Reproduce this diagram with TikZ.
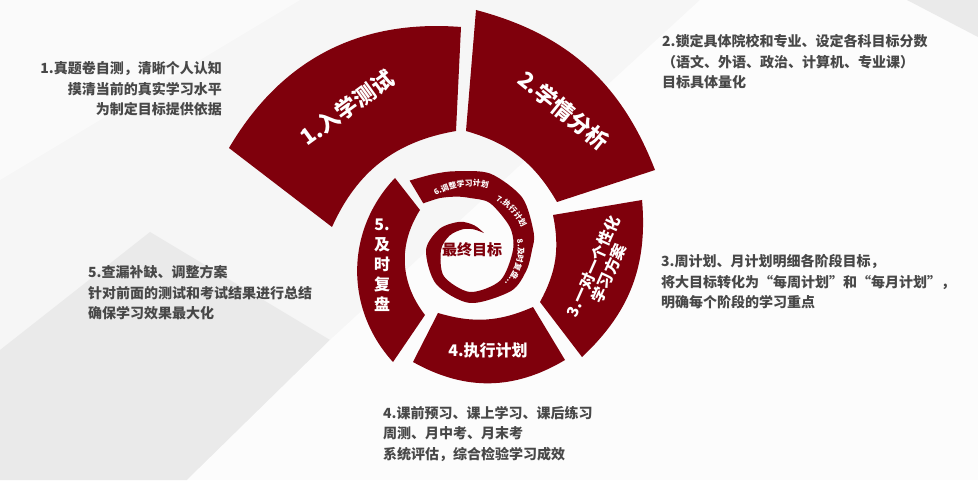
\documentclass[tikz,border=0pt]{standalone}
\usepackage{fontspec}
\newfontfamily\cjk{Noto Sans CJK SC}
\usetikzlibrary{decorations.text}
\definecolor{spiral}{RGB}{127,0,12}
\definecolor{desc}{RGB}{72,72,72}
\definecolor{bgc}{RGB}{246,246,246}
\definecolor{bgdark}{RGB}{234,234,234}
\newcommand{\ringfont}{\cjk\bfseries\fontsize{7.8}{8}\selectfont}
\begin{document}
\begin{tikzpicture}[x=1pt,y=1pt,
  seg/.style={fill=spiral},
  lab/.style={text=white,font=\cjk\bfseries\fontsize{22}{24}\selectfont,inner sep=0},
  labm/.style={text=white,font=\cjk\bfseries\fontsize{16}{20}\selectfont,inner sep=0,align=center},
  labs/.style={text=white,font=\cjk\bfseries\fontsize{15.5}{17}\selectfont,inner sep=0,align=center},
  goal/.style={text=spiral,font=\cjk\bfseries\fontsize{15}{18}\selectfont,inner sep=0},
  desctext/.style={text=desc,font=\cjk\bfseries\fontsize{14}{20.5}\selectfont,inner sep=0},
  ringtext/.style={decorate,decoration={text along path,text align=center,text color=white,text={|\ringfont|#1}}}
]
% background
\fill[bgc] (0,0) rectangle (978,480);
\fill[bgdark] (0,0) -- (0,130) -- (150,248) -- (330,140) -- (187,0) -- cycle;
\fill[white,opacity=0.7] (187,0) -- (330,140) -- (700,480) -- (978,480) -- (978,0) -- cycle;
\fill[bgdark] (907,480) -- (978,480) -- (978,443) -- cycle;
\fill[white,opacity=0.5] (0,480) -- (300,480) -- (0,300) -- cycle;
\useasboundingbox (0,0) rectangle (978,480);

% segment 1
\coordinate (a1) at (229,332); \coordinate (b1) at (461,453);
\coordinate (c1) at (456,349); \coordinate (d1) at (332,253);
\fill[seg] (a1) to[bend left=32] (b1) -- (c1) to[bend right=28] (d1) -- cycle;
% segment 2
\coordinate (a2) at (476,470); \coordinate (b2) at (655,310);
\coordinate (c2) at (557,278); \coordinate (d2) at (466,349);
\fill[seg] (a2) to[bend left=27] (b2) -- (c2) to[bend right=22] (d2) -- cycle;
% segment 3
\coordinate (a3) at (642,280); \coordinate (b3) at (582,123);
\coordinate (c3) at (540,178); \coordinate (d3) at (553,265);
\fill[seg] (a3) to[bend left=26] (b3) -- (c3) to[bend right=20] (d3) -- cycle;
% segment 4
\coordinate (a4) at (565,120); \coordinate (b4) at (413,118);
\coordinate (c4) at (438,167); \coordinate (d4) at (533,173);
\fill[seg] (a4) to[bend left=30] (b4) -- (c4) to[bend right=20] (d4) -- cycle;
% segment 5
\coordinate (a5) at (393,118); \coordinate (b5) at (395,302);
\coordinate (c5) at (420,270); \coordinate (d5) at (425,165);
\fill[seg] (a5) to[bend left=43] (b5) -- (c5) to[bend right=35] (d5) -- cycle;

% inner spiral
\begin{scope}[shift={(470,230)}]
\fill[seg] plot[smooth] coordinates {(131:92) (115:84) (100:80) (75:79) (45:74) (15:66) (0:62) (-20:60) (-45:58) (-90:53) (-135:48) (-180:44) (-215:37) (-250:30) (-280:25) (-310:22)}
  -- plot[smooth] coordinates {(-310:22) (-280:21) (-250:22) (-215:25) (-180:29) (-135:37) (-90:42) (-45:43) (0:43) (30:46) (67:51) (90:52) (104:55) (120:60) (135:66)} -- cycle;
\path[ringtext={6.调整学习计划}] (140:64) arc[start angle=140,end angle=56,radius=64];
\path[ringtext={7.执行计划}] (78:56) arc[start angle=78,end angle=8,radius=56];
\path[ringtext={8.及时复盘…}] (20:48) arc[start angle=20,end angle=-52,radius=48];
\end{scope}

% labels
\node[lab,rotate=36] (l1) at (347,372) {1.入学测试};
\node[lab,rotate=-39] (l2) at (564,370) {2.学情分析};
\node[labs,rotate=66] (l3) at (601,210) {3.一对一个性化\\学习方案};
\node[labm] (l4) at (488,130) {4.执行计划};
\node[labm] (l5) at (382,215) {5.\\及\\时\\复\\盘};
\node[goal] (goal) at (472,230) {最终目标};

% descriptions
\node[desctext,anchor=east,align=right] (t1) at (222,391) {1.真题卷自测，清晰个人认知\\摸清当前的真实学习水平\\为制定目标提供依据};
\node[desctext,anchor=west,align=left] (t2) at (662,418) {2.锁定具体院校和专业、设定各科目标分数\\（语文、外语、政治、计算机、专业课）\\目标具体量化};
\node[desctext,anchor=west,align=left] (t3) at (661,198) {3.周计划、月计划明细各阶段目标，\\将大目标转化为“每周计划”和“每月计划”，\\明确每个阶段的学习重点};
\node[desctext,anchor=west,align=left] (t5) at (88,187) {5.查漏补缺、调整方案\\针对前面的测试和考试结果进行总结\\确保学习效果最大化};
\node[desctext,anchor=west,align=left] (t4) at (383,46) {4.课前预习、课上学习、课后练习\\周测、月中考、月末考\\系统评估，综合检验学习成效};
\end{tikzpicture}
\end{document}
